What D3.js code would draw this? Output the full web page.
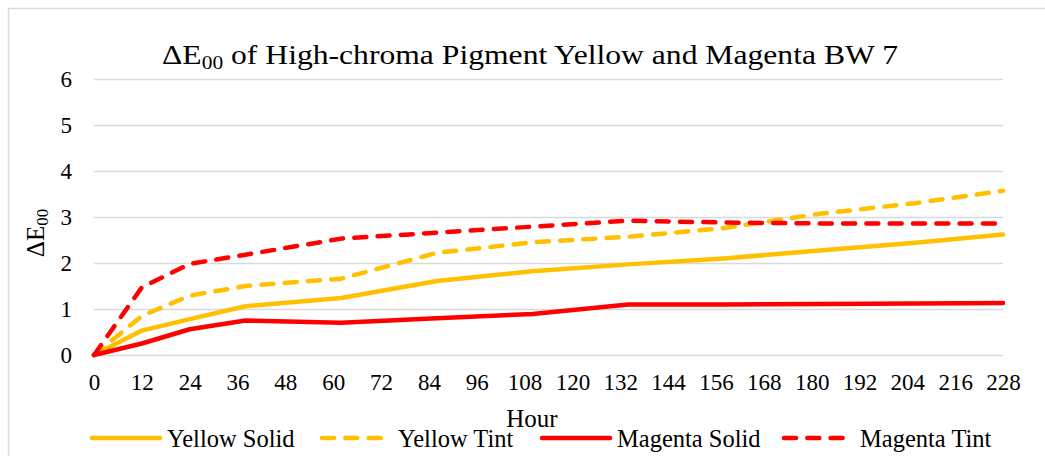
<!DOCTYPE html>
<html>
<head>
<meta charset="utf-8">
<script src="https://cdn.jsdelivr.net/npm/d3@7"></script>
<style>
  body { margin: 0; background: #fff; }
  text { font-family: "Liberation Serif", "Times New Roman", serif; fill: #000; }
</style>
</head>
<body>
<div id="vis"></div>
<script>
const hours = [0, 12, 24, 38, 62, 86, 110, 134, 158, 182, 206, 228];
const yellowSolid = [0, 0.53, 0.78, 1.06, 1.24, 1.61, 1.82, 1.97, 2.10, 2.27, 2.44, 2.62];
const yellowTint = [0, 0.85, 1.29, 1.50, 1.66, 2.22, 2.45, 2.57, 2.76, 3.07, 3.30, 3.57];
const magentaSolid = [0, 0.25, 0.56, 0.75, 0.70, 0.80, 0.89, 1.10, 1.10, 1.11, 1.12, 1.13];
const magentaTint = [0, 1.47, 1.98, 2.18, 2.53, 2.66, 2.79, 2.92, 2.88, 2.86, 2.86, 2.86];

const seriesNames = ["Yellow Solid", "Yellow Tint", "Magenta Solid", "Magenta Tint"];
const xTicks = [0, 12, 24, 36, 48, 60, 72, 84, 96, 108, 120, 132, 144, 156, 168, 180, 192, 204, 216, 228];
const yTicks = [0, 1, 2, 3, 4, 5, 6];

const FRAME_WIDTH = 1045;
const FRAME_HEIGHT = 456;
const MARGINS = {left: 94, right: 42, top: 79, bottom: 101};

const YELLOW = "#FFC000";
const RED = "#FF0000";
const GRID = "#D9D9D9";
const DASH = "12,11.3";

const series = [
  {name: seriesNames[0], values: yellowSolid, color: YELLOW, dash: null},
  {name: seriesNames[1], values: yellowTint, color: YELLOW, dash: DASH},
  {name: seriesNames[2], values: magentaSolid, color: RED, dash: null},
  {name: seriesNames[3], values: magentaTint, color: RED, dash: DASH}
];

const FRAME = d3.select("#vis")
  .append("svg")
    .attr("width", FRAME_WIDTH)
    .attr("height", FRAME_HEIGHT);

// chart border (runs off the right and bottom edges)
FRAME.append("rect")
  .attr("x", 8.5).attr("y", 8.5)
  .attr("width", 1100).attr("height", 500)
  .attr("fill", "none")
  .attr("stroke", GRID)
  .attr("stroke-width", 1.5);

const X_SCALE = d3.scaleLinear()
  .domain([0, 228])
  .range([MARGINS.left, FRAME_WIDTH - MARGINS.right]);

const Y_SCALE = d3.scaleLinear()
  .domain([0, 6])
  .range([FRAME_HEIGHT - MARGINS.bottom, MARGINS.top]);

// gridlines + y labels
const yAxis = FRAME.append("g")
  .attr("transform", "translate(" + MARGINS.left + ",0)")
  .call(d3.axisLeft(Y_SCALE)
    .tickValues(yTicks)
    .tickSize(-(X_SCALE.range()[1] - MARGINS.left))
    .tickPadding(22)
    .tickFormat(d3.format("d")));
yAxis.select(".domain").remove();
yAxis.selectAll(".tick line").attr("stroke", GRID).attr("stroke-width", 1.5);
yAxis.selectAll(".tick text")
  .attr("font-size", "23px")
  .attr("dy", "0.34em");

// x labels
const xAxis = FRAME.append("g")
  .attr("transform", "translate(0," + Y_SCALE(0) + ")")
  .call(d3.axisBottom(X_SCALE)
    .tickValues(xTicks)
    .tickSize(0)
    .tickPadding(19)
    .tickFormat(d3.format("d")));
xAxis.select(".domain").remove();
xAxis.selectAll(".tick text")
  .attr("font-size", "23px");

// lines
const line = d3.line()
  .x((d, i) => X_SCALE(hours[i]))
  .y((d) => Y_SCALE(d));

FRAME.selectAll(".series")
  .data(series)
  .enter()
  .append("path")
    .attr("class", "series")
    .attr("d", (d) => line(d.values))
    .attr("fill", "none")
    .attr("stroke", (d) => d.color)
    .attr("stroke-width", 4.5)
    .attr("stroke-linejoin", "round")
    .attr("stroke-linecap", "round")
    .attr("stroke-dasharray", (d) => d.dash);

// title, stretched a little like the reference
const title = FRAME.append("text")
  .attr("transform", "translate(530,64) scale(1.13,1)")
  .attr("text-anchor", "middle")
  .attr("font-size", "28px");
title.append("tspan").text("ΔE");
title.append("tspan").attr("font-size", "19px").attr("dy", 5).text("00");
title.append("tspan").attr("dy", -5).text(" of High-chroma Pigment Yellow and Magenta BW 7");

// y axis title
const yTitle = FRAME.append("text")
  .attr("transform", "translate(44,233) rotate(-90)")
  .attr("text-anchor", "middle")
  .attr("font-size", "25px");
yTitle.append("tspan").text("ΔE");
yTitle.append("tspan").attr("font-size", "17px").attr("dy", 4).text("00");

// x axis title
FRAME.append("text")
  .attr("x", 532).attr("y", 427)
  .attr("text-anchor", "middle")
  .attr("font-size", "25px")
  .text("Hour");

// legend
const legendX = [90, 320, 540, 782];
const legend = FRAME.selectAll(".legend")
  .data(series)
  .enter()
  .append("g")
    .attr("class", "legend")
    .attr("transform", (d, i) => "translate(" + legendX[i] + ",438)");

legend.append("line")
  .attr("x1", 2).attr("x2", (d) => d.dash ? 61 : 70)
  .attr("y1", 0).attr("y2", 0)
  .attr("stroke", (d) => d.color)
  .attr("stroke-width", 4.5)
  .attr("stroke-linecap", "round")
  .attr("stroke-dasharray", (d) => d.dash);

legend.append("text")
  .attr("x", (d) => d.dash ? 78 : 77)
  .attr("y", 8.5)
  .attr("font-size", "24.5px")
  .text((d) => d.name);
</script>
</body>
</html>
